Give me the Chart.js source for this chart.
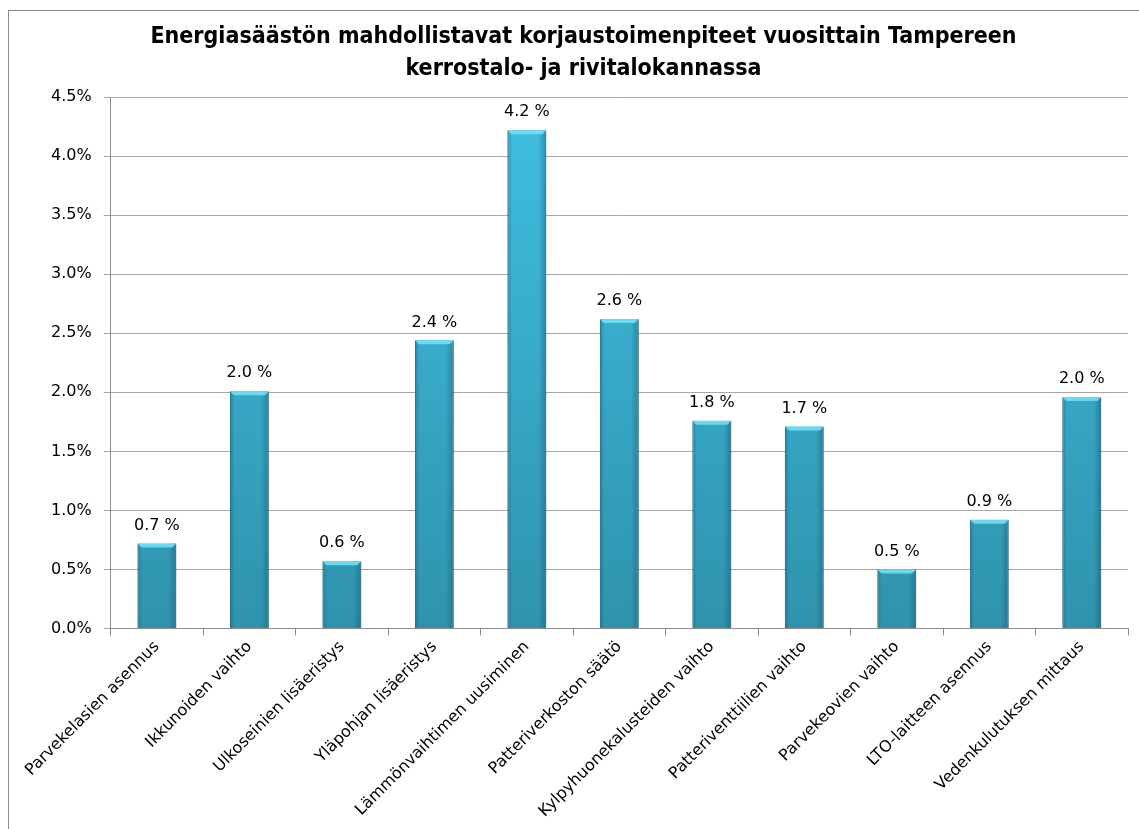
<!DOCTYPE html>
<html>
<head>
<meta charset="utf-8">
<script src="https://cdn.jsdelivr.net/npm/chart.js@4"></script>
<style>
    html, body { margin: 0; padding: 0; background: #fff; overflow: hidden; }
    #frame {
        position: absolute; left: 8px; top: 10px; width: 1200px; height: 900px;
        border-left: 1px solid #8c8c8c; border-top: 1px solid #8c8c8c;
    }
    #wrap { position: absolute; left: 0; top: 0; width: 1139px; height: 829px; }
</style>
</head>
<body>
<div id="frame"></div>
<div id="wrap"><canvas id="chart"></canvas></div>
<script>
// kategoriat ja arvot (%)
const categories = [
    'Parvekelasien asennus',
    'Ikkunoiden vaihto',
    'Ulkoseinien lisäeristys',
    'Yläpohjan lisäeristys',
    'Lämmönvaihtimen uusiminen',
    'Patteriverkoston säätö',
    'Kylpyhuonekalusteiden vaihto',
    'Patteriventtiilien vaihto',
    'Parvekeovien vaihto',
    'LTO-laitteen asennus',
    'Vedenkulutuksen mittaus'
];
const savings = [0.72, 2.01, 0.57, 2.44, 4.22, 2.62, 1.76, 1.71, 0.50, 0.92, 1.96];
const yMin = 0;
const yMax = 4.5;
const yStep = 0.5;
const titleLines = [
    'Energiasäästön mahdollistavat korjaustoimenpiteet vuosittain Tampereen',
    'kerrostalo- ja rivitalokannassa'
];

const FONT = "'DejaVu Sans', sans-serif";

// varjostus ja arvot pylväiden päälle
const barDecor = {
    id: 'barDecor',
    afterDatasetsDraw(chart) {
        const ctx = chart.ctx;
        const meta = chart.getDatasetMeta(0);
        ctx.save();
        meta.data.forEach((bar, i) => {
            const left = bar.x - bar.width / 2;
            const top = bar.y;
            const h = bar.base - bar.y;
            // sivujen tummennus
            const g = ctx.createLinearGradient(left, 0, left + bar.width, 0);
            g.addColorStop(0, 'rgba(20,70,90,0.35)');
            g.addColorStop(0.12, 'rgba(20,70,90,0.0)');
            g.addColorStop(0.8, 'rgba(20,70,90,0.0)');
            g.addColorStop(1, 'rgba(20,70,90,0.4)');
            ctx.fillStyle = g;
            ctx.fillRect(left, top, bar.width, h);
            // yläreunan korostus
            ctx.fillStyle = 'rgba(110,225,245,0.9)';
            ctx.beginPath();
            ctx.moveTo(left, top);
            ctx.lineTo(left + bar.width, top);
            ctx.lineTo(left + bar.width - 4, top + 4);
            ctx.lineTo(left + 4, top + 4);
            ctx.closePath();
            ctx.fill();

            ctx.fillStyle = '#000';
            ctx.font = '16px ' + FONT;
            ctx.textAlign = 'center';
            ctx.textBaseline = 'middle';
            ctx.fillText(savings[i].toFixed(1) + ' %', bar.x, bar.y - 18);
        });
        ctx.restore();
    }
};

const ctx = document.getElementById('chart').getContext('2d');

const chart = new Chart(ctx, {
    type: 'bar',
    data: {
        labels: categories,
        datasets: [{
            data: savings,
            backgroundColor: function(c) {
                const area = c.chart.chartArea;
                if (!area) return '#3ab6da';
                const g = c.chart.ctx.createLinearGradient(0, area.top, 0, area.bottom);
                g.addColorStop(0, '#3fc0e2');
                g.addColorStop(1, '#2f93ae');
                return g;
            },
            borderColor: '#2a7f98',
            borderWidth: 1,
            borderSkipped: 'bottom',
            categoryPercentage: 1,
            barPercentage: 0.42
        }]
    },
    options: {
        responsive: true,
        maintainAspectRatio: false,
        animation: false,
        layout: { padding: { left: 39, right: 11, top: 12, bottom: 6 } },
        plugins: {
            legend: { display: false },
            tooltip: { enabled: false },
            title: {
                display: true,
                text: titleLines,
                color: '#000',
                font: { family: "'Liberation Sans Narrow', 'DejaVu Sans Condensed', sans-serif", size: 23, weight: 'bold', lineHeight: 1.35 },
                padding: { top: 10, bottom: 13 }
            }
        },
        scales: {
            x: {
                grid: { drawOnChartArea: false, offset: true, tickLength: 7, color: '#8c8c8c' },
                border: { color: '#8c8c8c' },
                ticks: {
                    color: '#000',
                    font: { family: FONT, size: 16 },
                    maxRotation: 45,
                    minRotation: 45,
                    autoSkip: false,
                    padding: 2
                }
            },
            y: {
                min: yMin,
                max: yMax,
                grid: { color: '#a6a6a6', tickLength: 7 },
                border: { color: '#8c8c8c' },
                ticks: {
                    stepSize: yStep,
                    color: '#000',
                    font: { family: FONT, size: 16 },
                    padding: 12,
                    callback: v => v.toFixed(1) + '%'
                }
            }
        }
    },
    plugins: [barDecor]
});
chart.update();
</script>
</body>
</html>
